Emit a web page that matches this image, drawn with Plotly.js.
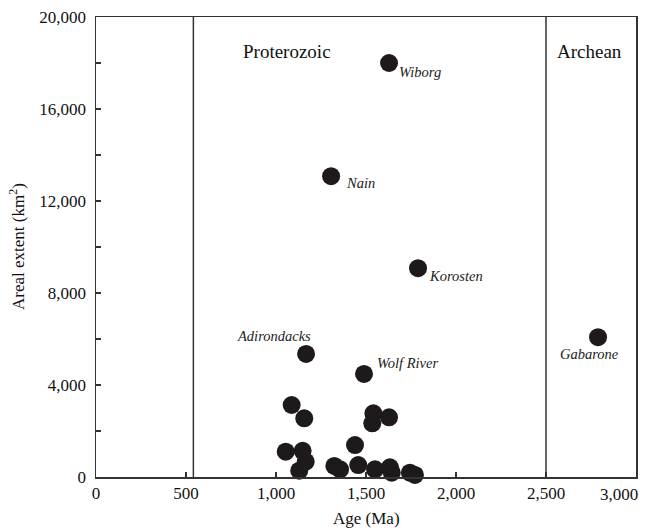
<!DOCTYPE html>
<html>
<head>
<meta charset="utf-8">
<script src="https://cdn.plot.ly/plotly-3.0.1.min.js"></script>
<style>html,body{margin:0;padding:0;background:#fff;}#chart{width:646px;height:530px;}</style>
</head>
<body>
<div id="chart"></div>
<script>
// Age (Ma) and areal extent (km2) of anorthosite / rapakivi complexes
const ages = [1628, 1306, 1789, 2789, 1167, 1489,
  1087, 1157, 1541, 1535, 1628, 1054, 1148, 1165, 1129, 1439,
  1324, 1356, 1457, 1550, 1633, 1643, 1744, 1772];
const areas = [18000, 13080, 9080, 6080, 5350, 4480,
  3130, 2550, 2770, 2335, 2595, 1100, 1140, 665, 275, 1390,
  480, 335, 520, 335, 420, 190, 190, 90];

// named complexes
const names = ["Wiborg", "Nain", "Korosten", "Gabarone", "Adirondacks", "Wolf River"];
const nameAges = [1628, 1306, 1789, 2789, 1167, 1489];
const nameAreas = [18000, 13080, 9080, 6080, 5350, 4480];

// eon boundaries and labels
const boundaries = [541, 2500];
const eonNames = ["Proterozoic", "Archean"];
const eonAges = [1061, 2744];

const xTickVals = [0, 500, 1000, 1500, 2000, 2500];
const xTickText = ["0", "500", "1,000", "1,500", "2,000", "2,500"];
const yTickVals = [0, 4000, 8000, 12000, 16000, 20000];
const yTickText = ["0", "4,000", "8,000", "12,000", "16,000", "20,000"];

const serif = "Liberation Serif, Times New Roman, serif";
const axisColor = "#333333";

// label placement offsets (pixels)
const labelStyle = {
  "Wiborg": {xanchor: "left", xshift: 8, yshift: -9},
  "Nain": {xanchor: "left", xshift: 13, yshift: -7},
  "Korosten": {xanchor: "left", xshift: 9, yshift: -8},
  "Gabarone": {xanchor: "center", xshift: -9, yshift: -17},
  "Adirondacks": {xanchor: "center", xshift: -32, yshift: 18},
  "Wolf River": {xanchor: "left", xshift: 11, yshift: 11}
};

const annotations = names.map((n, i) => Object.assign({
  x: nameAges[i], y: nameAreas[i], xref: "x", yref: "y",
  text: n, showarrow: false, yanchor: "middle",
  font: {family: serif, size: 14.5, color: "#222", style: "italic"}
}, labelStyle[n]));

eonNames.forEach((n, i) => annotations.push({
  x: eonAges[i], y: 1, xref: "x", yref: "paper", yanchor: "middle",
  yshift: -34, text: n, showarrow: false,
  font: {family: serif, size: 19, color: "#111"}
}));

annotations.push({
  x: 3000, y: 0, xref: "x", yref: "paper", xanchor: "right", yanchor: "top",
  xshift: 4, yshift: -6, text: "3,000", showarrow: false,
  font: {family: serif, size: 17, color: "#111"}
});
annotations.push({
  x: 0.5, y: 0, xref: "paper", yref: "paper", yanchor: "middle",
  yshift: -41, text: "Age (Ma)", showarrow: false,
  font: {family: serif, size: 17, color: "#111"}
});
annotations.push({
  x: 0, y: 0.5, xref: "paper", yref: "paper", xanchor: "center",
  xshift: -79, text: "Areal extent (km<sup>2</sup>)", textangle: -90, showarrow: false,
  font: {family: serif, size: 17, color: "#111"}
});

const shapes = boundaries.map(b => ({
  type: "line", xref: "x", yref: "paper", x0: b, x1: b, y0: 0, y1: 1,
  line: {color: axisColor, width: 1.5}
}));

const trace = {
  x: ages, y: areas, type: "scatter", mode: "markers",
  marker: {size: 18, color: "#1e1a1b"},
  hoverinfo: "x+y", cliponaxis: false
};

const layout = {
  width: 646, height: 530,
  margin: {l: 96, r: 10, t: 17, b: 53},
  paper_bgcolor: "#fff", plot_bgcolor: "#fff",
  showlegend: false,
  font: {family: serif, size: 17, color: "#111"},
  xaxis: {
    range: [0, 3000], tickmode: "array", tickvals: xTickVals, ticktext: xTickText,
    ticks: "inside", ticklen: 5, tickcolor: axisColor, tickwidth: 1.2,
    showgrid: false, zeroline: false, showline: true, mirror: true,
    linecolor: axisColor, linewidth: 1.5, fixedrange: true, automargin: false
  },
  yaxis: {
    range: [0, 20000], tickmode: "array", tickvals: yTickVals, ticktext: yTickText,
    ticks: "inside", ticklen: 5, tickcolor: axisColor, tickwidth: 1.2,
    ticklabelstandoff: 5,
    minor: {tickmode: "linear", tick0: 0, dtick: 2000, ticks: "inside", ticklen: 5,
            tickcolor: axisColor, tickwidth: 1.2, showgrid: false},
    showgrid: false, zeroline: false, showline: true, mirror: true,
    linecolor: axisColor, linewidth: 1.5, fixedrange: true, automargin: false
  },
  shapes: shapes,
  annotations: annotations
};

Plotly.newPlot("chart", [trace], layout, {displayModeBar: false, staticPlot: true});
</script>
</body>
</html>
